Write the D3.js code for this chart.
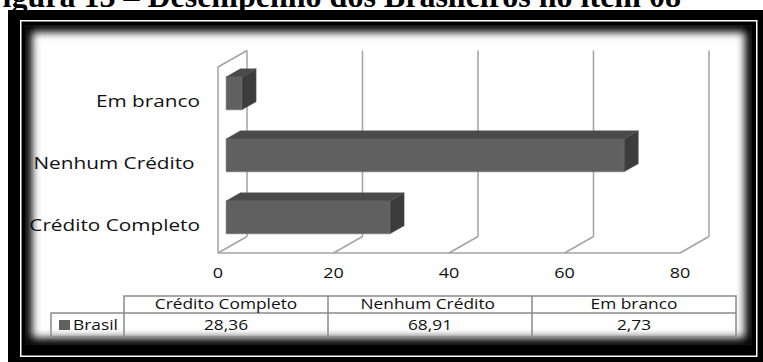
<!DOCTYPE html>
<html>
<head>
<meta charset="utf-8">
<script src="https://cdn.jsdelivr.net/npm/d3@7"></script>
<style>
  html, body { margin: 0; padding: 0; background: #fff; overflow: hidden; }
  text { font-family: "Open Sans", "DejaVu Sans", sans-serif; fill: #111; white-space: pre; }
  text.heading { font-family: "Liberation Serif", "Times New Roman", serif; fill: #000; }
</style>
</head>
<body>
<svg id="chart" width="763" height="362"></svg>
<script>
// ---- data ----
const title = "Figura 13 – Desempenho dos Brasileiros no item 08";
const categories = ["Crédito Completo", "Nenhum Crédito ", "Em branco"];
const seriesName = "Brasil";
const values = [28.36, 68.91, 2.73];
const xTicks = [0, 20, 40, 60, 80];

// pt-BR number format (decimal comma)
const fmt = d3.formatLocale({ decimal: ",", thousands: ".", grouping: [3], currency: ["R$", ""] }).format(".2f");

const svg = d3.select("#chart");
const defs = svg.append("defs");

// text with a horizontal stretch
function stext(parent, x, y, str, size, anchor, sx, weight) {
  return parent.append("text")
    .attr("transform", `translate(${x},${y}) scale(${sx},1)`)
    .attr("text-anchor", anchor)
    .attr("dy", "0.35em")
    .attr("font-size", size)
    .attr("font-weight", weight || "normal")
    .text(str);
}

// ---- heading (partly above the page edge) ----
svg.append("text")
  .attr("class", "heading")
  .attr("x", 681).attr("y", 7)
  .attr("text-anchor", "end")
  .attr("font-weight", "bold")
  .attr("font-size", 32)
  .text(title);

// ---- frame ----
svg.append("rect").attr("x", 8).attr("y", 10).attr("width", 755).attr("height", 352).attr("fill", "#000");
svg.append("rect").attr("x", 20.75).attr("y", 20.75).attr("width", 736).attr("height", 335.5)
  .attr("fill", "none").attr("stroke", "#fff").attr("stroke-width", 1.5);

const panel = { x: 25, y: 25, w: 727, h: 320 };
defs.append("clipPath").attr("id", "panelClip")
  .append("rect").attr("x", panel.x).attr("y", panel.y).attr("width", panel.w).attr("height", panel.h);
defs.append("filter").attr("id", "soft").attr("x", "-5%").attr("y", "-5%").attr("width", "110%").attr("height", "110%")
  .append("feGaussianBlur").attr("stdDeviation", 4.5);
svg.append("rect").attr("x", panel.x).attr("y", panel.y).attr("width", panel.w).attr("height", panel.h).attr("fill", "#fff");
svg.append("g").attr("clip-path", "url(#panelClip)")
  .append("rect").attr("x", panel.x).attr("y", panel.y).attr("width", panel.w).attr("height", panel.h)
  .attr("fill", "none").attr("stroke", "#000").attr("stroke-width", 14).attr("filter", "url(#soft)");

// ---- 3D plot ----
const x = d3.scaleLinear().domain([0, 80]).range([218, 680]);
const y = d3.scaleBand().domain(categories.slice().reverse()).range([67, 253])
  .paddingInner(0.47).paddingOuter(0.235);
const depth = { dx: 29, dy: -16.5 };
const P = (px, py, f) => [px + f * depth.dx, py + f * depth.dy];
const yBottom = y.range()[1], yTop = y.range()[0];
const gridColor = "#a3a3a3";

const plot = svg.append("g");
// back wall gridlines
plot.selectAll("line.grid").data(xTicks).join("line")
  .attr("class", "grid")
  .attr("x1", d => P(x(d), yBottom, 1)[0]).attr("y1", d => P(x(d), yBottom, 1)[1])
  .attr("x2", d => P(x(d), yTop, 1)[0]).attr("y2", d => P(x(d), yTop, 1)[1])
  .attr("stroke", gridColor).attr("stroke-width", 1.5);
// floor diagonals
plot.selectAll("line.floor").data(xTicks).join("line")
  .attr("class", "floor")
  .attr("x1", d => x(d)).attr("y1", yBottom)
  .attr("x2", d => P(x(d), yBottom, 1)[0]).attr("y2", d => P(x(d), yBottom, 1)[1])
  .attr("stroke", gridColor).attr("stroke-width", 1.5);
// floor front edge
plot.append("line").attr("x1", x(0)).attr("y1", yBottom).attr("x2", x(80)).attr("y2", yBottom)
  .attr("stroke", gridColor).attr("stroke-width", 1.5);
// left wall
plot.append("polyline")
  .attr("points", [[x(0), yBottom], [x(0), yTop], P(x(0), yTop, 1)].map(p => p.join(",")).join(" "))
  .attr("fill", "none").attr("stroke", gridColor).attr("stroke-width", 1.5);

// bars
const f0 = 0.28, f1 = 0.77;
const bars = plot.selectAll("g.bar").data(categories.map((c, i) => ({ c, v: values[i] }))).join("g").attr("class", "bar");
const poly = pts => pts.map(p => p.join(",")).join(" ");
bars.append("polygon") // top face
  .attr("points", d => {
    const t = y(d.c);
    return poly([P(x(0), t, f0), P(x(d.v), t, f0), P(x(d.v), t, f1), P(x(0), t, f1)]);
  })
  .attr("fill", "#4a4a4a").attr("stroke", "#555").attr("stroke-width", 0.5);
bars.append("polygon") // end face
  .attr("points", d => {
    const t = y(d.c), b = t + y.bandwidth();
    return poly([P(x(d.v), t, f0), P(x(d.v), t, f1), P(x(d.v), b, f1), P(x(d.v), b, f0)]);
  })
  .attr("fill", "#3c3c3c").attr("stroke", "#555").attr("stroke-width", 0.5);
bars.append("polygon") // front face
  .attr("points", d => {
    const t = y(d.c), b = t + y.bandwidth();
    return poly([P(x(0), t, f0), P(x(d.v), t, f0), P(x(d.v), b, f0), P(x(0), b, f0)]);
  })
  .attr("fill", "#606060").attr("stroke", "#6a6a6a").attr("stroke-width", 0.5);

// axis tick labels
xTicks.forEach(t => stext(svg, x(t), 273, String(t), 15, "middle", 1.2));
// category labels
categories.forEach(c => stext(svg, x(0) - 18, y(c) + y.bandwidth() / 2 + 4, c, 15.5, "end", 1.34));

// ---- data table ----
const col = d3.scaleBand().domain(categories).range([124, 736]);
const rowTop = 296, rowMid = 313, rowBot = 337, legLeft = 51;
const tbl = svg.append("g").attr("stroke", "#8a8a8a").attr("stroke-width", 1.5).attr("fill", "none");
tbl.append("path").attr("d",
  `M${col.range()[0]},${rowBot} V${rowTop} H${col.range()[1]} V${rowBot} H${legLeft} V${rowMid} H${col.range()[1]}`);
categories.slice(1).forEach(c => tbl.append("line")
  .attr("x1", col(c)).attr("y1", rowTop).attr("x2", col(c)).attr("y2", rowBot));

categories.forEach((c, i) => {
  stext(svg, col(c) + col.bandwidth() / 2, (rowTop + rowMid) / 2, c, 14, "middle", 1.24);
  stext(svg, col(c) + col.bandwidth() / 2, (rowMid + rowBot) / 2, fmt(values[i]), 14, "middle", 1.24);
});
// legend key
svg.append("rect").attr("x", 59).attr("y", 320).attr("width", 11).attr("height", 10).attr("fill", "#606060");
stext(svg, 73, (rowMid + rowBot) / 2, seriesName, 14, "start", 1.24);
</script>
</body>
</html>
